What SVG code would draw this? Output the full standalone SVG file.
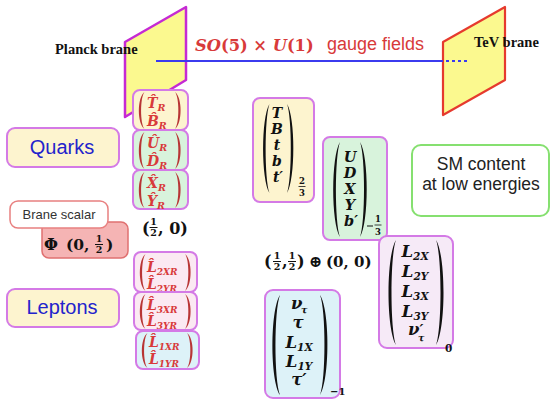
<svg xmlns="http://www.w3.org/2000/svg" xmlns:xlink="http://www.w3.org/1999/xlink" width="551" height="401" viewBox="0 0 551 401">
<defs>
<path id="lp" d="M10,0 C0,15 0,85 10,100 C4,85 4,15 10,0 Z"/>
<path id="rp" d="M0,0 C10,15 10,85 0,100 C6,85 6,15 0,0 Z"/>
</defs>
<style>
.m{font-family:"DejaVu Serif","Liberation Serif",serif;font-weight:bold;font-style:italic;fill:#111}
.b{font-family:"DejaVu Serif","Liberation Serif",serif;font-weight:bold;fill:#111}
.t{font-family:"Liberation Serif","Times New Roman",serif;font-weight:bold;fill:#111}
.s{font-family:"Liberation Sans",Arial,sans-serif}
.red{fill:#d83a3a}
.box{stroke:#d47ae6;stroke-width:2}
.yel{fill:#fdf4cf}
.grn{fill:#d8f3dc}
.pnk{fill:#fbe9f2}
.blu{fill:#ddf2f8}
.lav{fill:#f6eaf7}
.rp{fill:#b83535}
.kp{fill:#111}
.sub{font-size:9.5px}
</style>
<rect width="551" height="401" fill="#fff"/>

<g id="planck-brane">
<polygon points="125,42 186,7 186,80 125,117" fill="#fbf98f" stroke="#c52ad4" stroke-width="2.5" stroke-linejoin="round"/>
</g>
<g id="tev-brane">
<polygon points="443,42 505,7 505,80 443,115" fill="#fbf98f" stroke="#e63a2e" stroke-width="2.2" stroke-linejoin="round"/>
</g>

<g id="connectors">
<line x1="156" y1="61" x2="443" y2="61" stroke="#3b3bef" stroke-width="2"/>
<line x1="446" y1="61" x2="470" y2="61" stroke="#3b3bef" stroke-width="2" stroke-dasharray="3,3"/>
</g>

<g id="labels-top">
<text class="t" x="55" y="54" font-size="14.5">Planck brane</text>
<text class="t" x="474" y="47" font-size="14.5">TeV brane</text>
<text x="195" y="51" font-size="16.3" class="b red"><tspan font-style="italic">SO</tspan>(5) × <tspan font-style="italic">U</tspan>(1)</text>
<text class="s" x="327" y="50" font-size="18" fill="#d83a3a">gauge fields</text>
</g>

<g id="quarks">
<rect x="7" y="128" width="112" height="39" rx="8" class="box yel"/>
<text class="s" x="62" y="154" font-size="20" fill="#2323cc" text-anchor="middle">Quarks</text>
</g>

<g id="q-TB">
<rect x="133" y="90" width="55" height="40" rx="7" class="box yel"/>
<use xlink:href="#lp" class="rp" transform="translate(137,92) scale(0.75,0.37)"/>
<use xlink:href="#rp" class="rp" transform="translate(175,92) scale(0.75,0.37)"/>
<text class="m red" x="147" y="108" font-size="14">T&#x302;<tspan class="sub" dy="3">R</tspan></text>
<text class="m red" x="147" y="126" font-size="14">B&#x302;<tspan class="sub" dy="3">R</tspan></text>
</g>
<g id="q-UD">
<rect x="133" y="130" width="55" height="40" rx="7" class="box grn"/>
<use xlink:href="#lp" class="rp" transform="translate(137,132) scale(0.75,0.37)"/>
<use xlink:href="#rp" class="rp" transform="translate(175,132) scale(0.75,0.37)"/>
<text class="m red" x="147" y="148" font-size="14">U&#x302;<tspan class="sub" dy="3">R</tspan></text>
<text class="m red" x="147" y="166" font-size="14">D&#x302;<tspan class="sub" dy="3">R</tspan></text>
</g>
<g id="q-XY">
<rect x="133" y="170" width="55" height="39" rx="7" class="box grn"/>
<use xlink:href="#lp" class="rp" transform="translate(137,172) scale(0.75,0.36)"/>
<use xlink:href="#rp" class="rp" transform="translate(175,172) scale(0.75,0.36)"/>
<text class="m red" x="147" y="188" font-size="14">X&#x302;<tspan class="sub" dy="3">R</tspan></text>
<text class="m red" x="147" y="206" font-size="14">Y&#x302;<tspan class="sub" dy="3">R</tspan></text>
</g>

<g id="half-zero">
<text class="b" x="142" y="234" font-size="16">(</text>
<text class="b" x="153.5" y="225" font-size="9.5" text-anchor="middle">1</text>
<line x1="149.5" y1="227.5" x2="157.5" y2="227.5" stroke="#111" stroke-width="1"/>
<text class="b" x="153.5" y="236" font-size="9.5" text-anchor="middle">2</text>
<text class="b" x="158" y="234" font-size="16">, 0)</text>
</g>

<g id="phi">
<rect x="42" y="222" width="86" height="36" rx="7" fill="#f5b4b4" stroke="#e07070" stroke-width="1.5"/>
<text class="b" x="44" y="250" font-size="16">Φ</text>
<text class="b" x="66" y="250" font-size="15.5">(0,</text>
<text class="b" x="99" y="242" font-size="9.5" text-anchor="middle">1</text>
<line x1="95" y1="244.5" x2="103" y2="244.5" stroke="#111" stroke-width="1"/>
<text class="b" x="99" y="253" font-size="9.5" text-anchor="middle">2</text>
<text class="b" x="106" y="250" font-size="15.5">)</text>
</g>
<g id="brane-scalar">
<rect x="10" y="201" width="98" height="27" rx="8" fill="#fff" stroke="#e88080" stroke-width="1.5"/>
<text class="s" x="59" y="219" font-size="13" fill="#333" text-anchor="middle">Brane scalar</text>
</g>

<g id="leptons">
<rect x="7" y="289" width="112" height="38" rx="8" class="box yel"/>
<text class="s" x="62" y="314" font-size="20" fill="#2323cc" text-anchor="middle">Leptons</text>
</g>

<g id="l-2">
<rect x="134" y="252" width="63" height="40" rx="7" class="box pnk"/>
<use xlink:href="#lp" class="rp" transform="translate(138,254) scale(0.75,0.37)"/>
<use xlink:href="#rp" class="rp" transform="translate(185,254) scale(0.75,0.37)"/>
<text class="m red" x="147" y="272" font-size="14">L&#x302;<tspan font-size="9" dy="3">2XR</tspan></text>
<text class="m red" x="147" y="289" font-size="14">L&#x302;<tspan font-size="9" dy="3">2YR</tspan></text>
</g>
<g id="l-3">
<rect x="134" y="292" width="63" height="38" rx="7" class="box pnk"/>
<use xlink:href="#lp" class="rp" transform="translate(138,294) scale(0.75,0.35)"/>
<use xlink:href="#rp" class="rp" transform="translate(185,294) scale(0.75,0.35)"/>
<text class="m red" x="147" y="310" font-size="14">L&#x302;<tspan font-size="9" dy="3">3XR</tspan></text>
<text class="m red" x="147" y="326" font-size="14">L&#x302;<tspan font-size="9" dy="3">3YR</tspan></text>
</g>
<g id="l-1">
<rect x="136" y="331" width="63" height="38" rx="7" class="box blu"/>
<use xlink:href="#lp" class="rp" transform="translate(140,333) scale(0.75,0.35)"/>
<use xlink:href="#rp" class="rp" transform="translate(187,333) scale(0.75,0.35)"/>
<text class="m red" x="149" y="347" font-size="14">L&#x302;<tspan font-size="9" dy="3">1XR</tspan></text>
<text class="m red" x="149" y="364" font-size="14">L&#x302;<tspan font-size="9" dy="3">1YR</tspan></text>
</g>

<g id="m-TBtbt">
<rect x="253" y="98" width="61" height="104" rx="7" class="box yel"/>
<use xlink:href="#lp" class="kp" transform="translate(261,104) scale(0.85,0.89)"/>
<use xlink:href="#rp" class="kp" transform="translate(287,104) scale(0.85,0.89)"/>
<g class="m" font-size="14" text-anchor="middle">
<text x="277" y="118">T</text>
<text x="277" y="134">B</text>
<text x="277" y="150">t</text>
<text x="277" y="166">b</text>
<text x="278" y="182">t′</text>
</g>
<text class="b" x="302" y="184" font-size="8.5" text-anchor="middle">2</text>
<line x1="298.5" y1="186.5" x2="305.5" y2="186.5" stroke="#111" stroke-width="0.8"/>
<text class="b" x="302" y="196" font-size="8.5" text-anchor="middle">3</text>
</g>

<g id="m-UDXYb">
<rect x="323" y="137" width="64" height="103" rx="7" class="box grn"/>
<use xlink:href="#lp" class="kp" transform="translate(331,142) scale(0.9,0.95)"/>
<use xlink:href="#rp" class="kp" transform="translate(360,142) scale(0.9,0.95)"/>
<g class="m" font-size="14.5" text-anchor="middle">
<text x="350" y="162">U</text>
<text x="350" y="178">D</text>
<text x="350" y="194">X</text>
<text x="350" y="210">Y</text>
<text x="351" y="226">b′</text>
</g>
<line x1="367" y1="226" x2="373" y2="226" stroke="#111" stroke-width="1"/>
<text class="b" x="378" y="222" font-size="8.5" text-anchor="middle">1</text>
<line x1="374.5" y1="225" x2="381.5" y2="225" stroke="#111" stroke-width="0.8"/>
<text class="b" x="378" y="235" font-size="8.5" text-anchor="middle">3</text>
</g>

<g id="sm-content">
<rect x="412" y="145" width="137" height="71" rx="9" fill="#fff" stroke="#86e070" stroke-width="2"/>
<text class="s" x="481" y="170" font-size="17.5" fill="#222" text-anchor="middle">SM content</text>
<text class="s" x="481" y="190" font-size="17.5" fill="#222" text-anchor="middle">at low energies</text>
</g>

<g id="rep-sum">
<text class="b" x="264" y="267" font-size="16">(</text>
<text class="b" x="277" y="259" font-size="9.5" text-anchor="middle">1</text>
<line x1="273" y1="261.5" x2="281" y2="261.5" stroke="#111" stroke-width="1"/>
<text class="b" x="277" y="270" font-size="9.5" text-anchor="middle">2</text>
<text class="b" x="282" y="267" font-size="16">,</text>
<text class="b" x="292" y="259" font-size="9.5" text-anchor="middle">1</text>
<line x1="288" y1="261.5" x2="296" y2="261.5" stroke="#111" stroke-width="1"/>
<text class="b" x="292" y="270" font-size="9.5" text-anchor="middle">2</text>
<text class="b" x="297" y="267" font-size="16">)</text>
<text class="b" x="315.5" y="267" font-size="16" text-anchor="middle">⊕</text>
<text class="b" x="326" y="267" font-size="15">(0, 0)</text>
</g>

<g id="m-L2">
<rect x="379" y="236" width="74" height="112" rx="8" class="box lav"/>
<use xlink:href="#lp" class="kp" transform="translate(386,240) scale(1,1.05)"/>
<use xlink:href="#rp" class="kp" transform="translate(436,240) scale(1,1.05)"/>
<g class="m" font-size="16.5" text-anchor="middle">
<text x="415" y="257">L<tspan font-size="10.5" dy="3">2X</tspan></text>
<text x="415" y="277">L<tspan font-size="10.5" dy="3">2Y</tspan></text>
<text x="415" y="297">L<tspan font-size="10.5" dy="3">3X</tspan></text>
<text x="415" y="317">L<tspan font-size="10.5" dy="3">3Y</tspan></text>
</g>
<text class="m" x="408" y="335" font-size="16.5">ν<tspan font-size="15">′</tspan></text>
<text class="m" x="418" y="341" font-size="9.5">τ</text>
<text class="b" x="445" y="352" font-size="10.5">0</text>
</g>

<g id="m-L1">
<rect x="265" y="290" width="75" height="108" rx="8" class="box blu"/>
<use xlink:href="#lp" class="kp" transform="translate(270,295) scale(1,1)"/>
<use xlink:href="#rp" class="kp" transform="translate(320,295) scale(1,1)"/>
<text class="m" x="291" y="309" font-size="16.5">ν</text>
<text class="m" x="301" y="313" font-size="9.5">τ</text>
<g class="m" font-size="16.5" text-anchor="middle">
<text x="298" y="328">τ</text>
<text x="299" y="348">L<tspan font-size="10.5" dy="3">1X</tspan></text>
<text x="299" y="367">L<tspan font-size="10.5" dy="3">1Y</tspan></text>
<text x="299" y="385">τ′</text>
</g>
<text class="b" x="330" y="395" font-size="10">−1</text>
</g>
</svg>
